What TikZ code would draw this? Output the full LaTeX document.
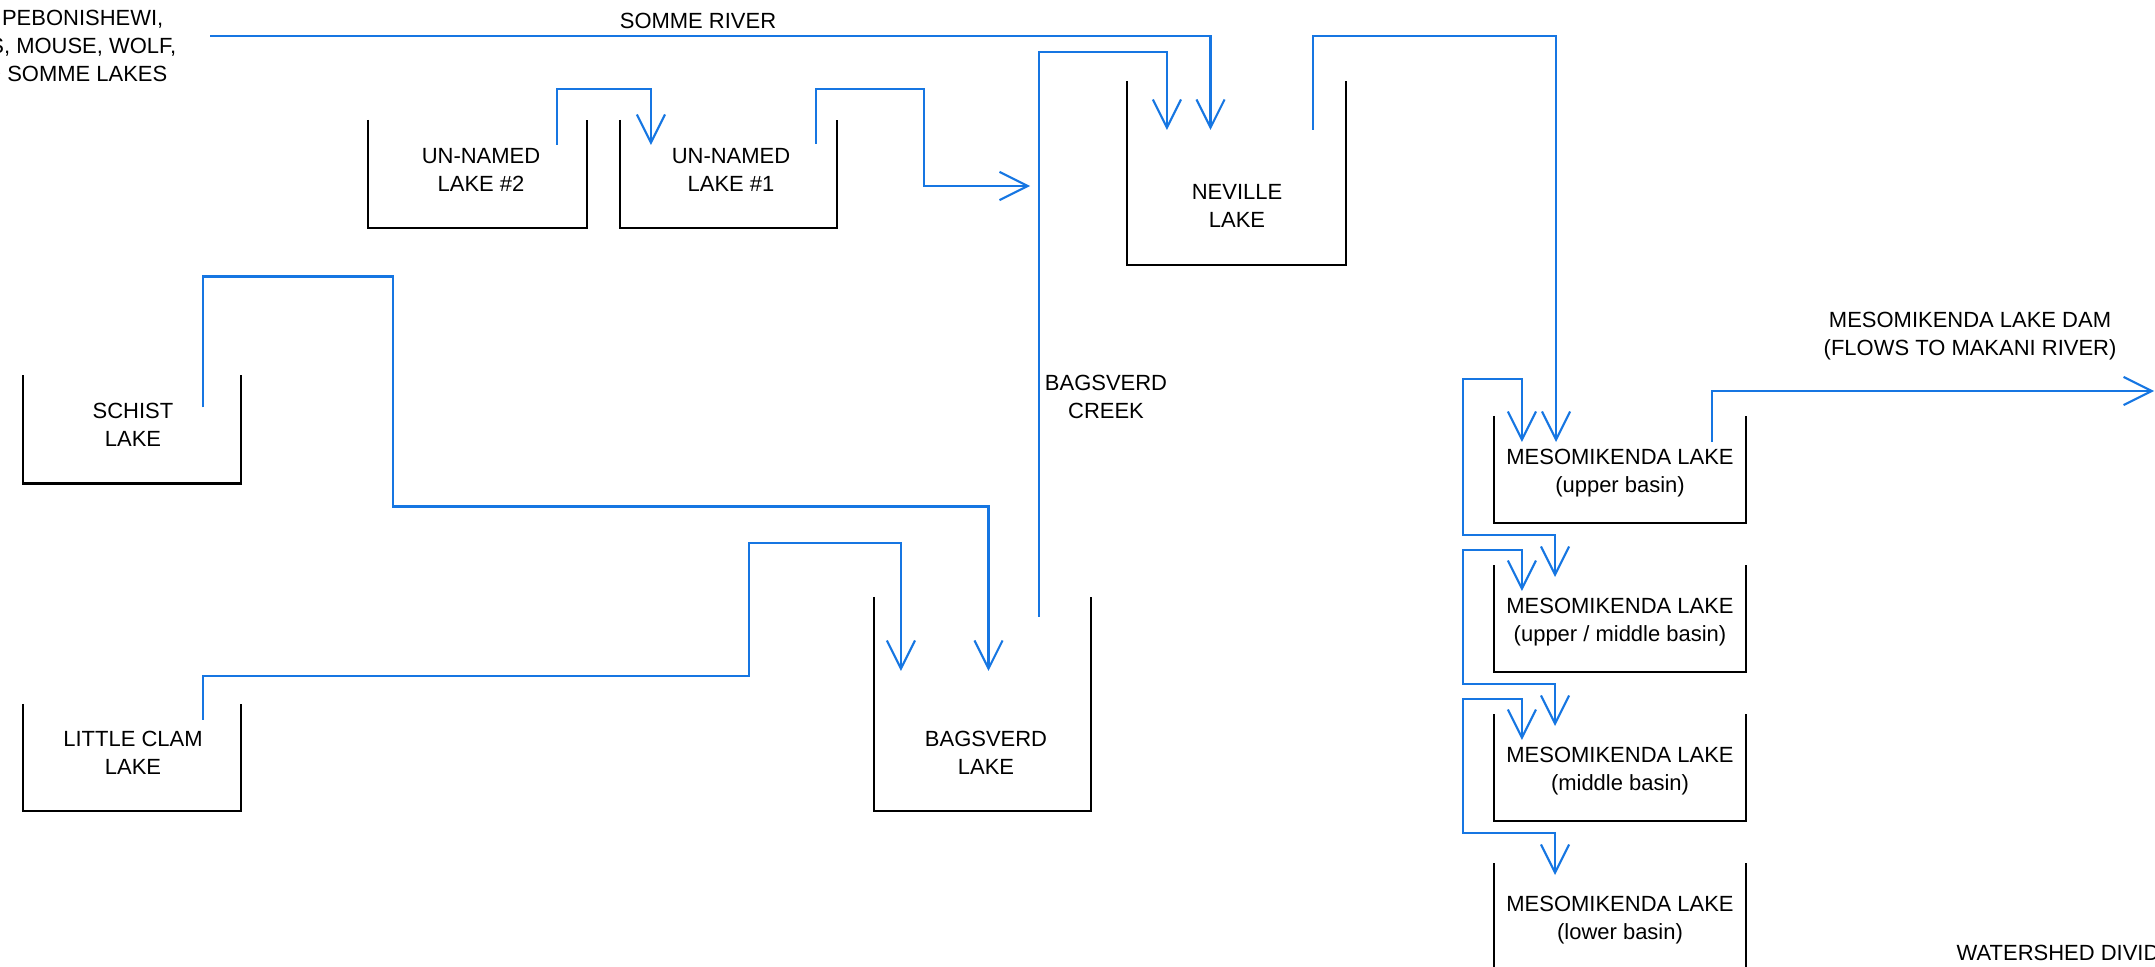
\documentclass[tikz,border=0pt]{standalone}
\usepackage{fontspec}
\setmainfont{Liberation Sans}
\usetikzlibrary{arrows.meta}
\definecolor{riverblue}{RGB}{22,118,226}

\begin{document}
\begin{tikzpicture}[x=0.01cm,y=-0.01cm,
  lake/.style={inner sep=0pt,outer sep=0pt,minimum width=2.18cm,minimum height=1.08cm},
  lbl/.style={align=center,inner sep=0pt,font=\fontsize{6.25}{7.9}\selectfont},
  wall/.style={line width=0.65pt,black},
  flow/.style={line width=0.6pt,riverblue,-{Straight Barb[length=8pt,width=8pt]}},
  flow2/.style={line width=0.6pt,riverblue,
    {Straight Barb[length=8pt,width=8pt]}-{Straight Barb[length=8pt,width=8pt]}}
]
\useasboundingbox (0,0) rectangle (2155,967);
\clip (0,0) rectangle (2155,967);

% lakes
\node[lake] (schist) at (132,429.5) {};
\node[lake,minimum height=1.07cm] (clam) at (132,757.5) {};
\node[lake,minimum width=2.19cm] (unnamed2) at (477.5,174) {};
\node[lake,minimum width=2.17cm] (unnamed1) at (728.5,174) {};
\node[lake,minimum width=2.19cm,minimum height=1.84cm] (neville) at (1236.5,173) {};
\node[lake,minimum width=2.17cm,minimum height=2.14cm] (bagsverd) at (982.5,704) {};
\foreach \n/\y in {1/416,2/565,3/714,4/863}
  \node[lake,minimum width=2.52cm,minimum height=1.07cm,anchor=north] (meso\n) at (1620,\y) {};

\foreach \n in {schist,clam,unnamed2,unnamed1,neville,bagsverd,meso1,meso2,meso3,meso4}
  \draw[wall] (\n.north west) |- (\n.south east) -- (\n.north east);

% names
\node[lbl] (schist-txt) at (133,425) {SCHIST\\LAKE};
\node[lbl] (clam-txt) at (133,753) {LITTLE CLAM\\LAKE};
\node[lbl] (unnamed2-txt) at (481,170) {UN-NAMED\\LAKE \#2};
\node[lbl] (unnamed1-txt) at (731,170) {UN-NAMED\\LAKE \#1};
\node[lbl] (neville-txt) at (1237,206) {NEVILLE\\LAKE};
\node[lbl] (bagsverd-txt) at (986,753) {BAGSVERD\\LAKE};
\node[lbl] (meso1-txt) at (1620,473) {MESOMIKENDA LAKE\\(upper basin)};
\node[lbl] (meso2-txt) at (1620,622) {MESOMIKENDA LAKE\\(upper / middle basin)};
\node[lbl] (meso3-txt) at (1620,771) {MESOMIKENDA LAKE\\(middle basin)};
\node[lbl] (meso4-txt) at (1620,920) {MESOMIKENDA LAKE\\(lower basin)};

\node[lbl,align=right,anchor=east] (upstream-txt) at (177,46)
  {PEBONISHEWI,\hspace*{0.13cm}\\S, MOUSE, WOLF,\\D SOMME LAKES\hspace*{0.09cm}};
\node[lbl] (somme-txt) at (698,21) {SOMME RIVER};
\node[lbl] (creek-txt) at (1106,397) {BAGSVERD\\CREEK};
\node[lbl] (dam-txt) at (1970,336) {MESOMIKENDA LAKE DAM\\(FLOWS TO MAKANI RIVER)};
\node[lbl,anchor=west] (divide-txt) at (1956,953) {WATERSHED DIVID};

% flows
\coordinate (somme) at (210,36);
\coordinate (creekin) at (1030,186);
\coordinate (makani) at (2154,391);

\draw[flow] (somme) -| ([shift={(-26,49)}]neville.north);
\draw[flow] ([shift={(-52,20)}]bagsverd.north east) -- ++(0,-565)
  -| ([shift={(40,49)}]neville.north west);
\draw[flow] ([shift={(-33,49)}]neville.north east) -- ++(0,-94)
  -| ([shift={(-64,26)}]meso1.north);
\draw[flow] ([shift={(-30,25)}]unnamed2.north east) -- ++(0,-56)
  -| ([shift={(31,25)}]unnamed1.north west);
\draw[flow] ([shift={(-21,24)}]unnamed1.north east) -- ++(0,-55) -- ++(108,0) |- (creekin);
\draw[flow] ([shift={(-38,32)}]schist.north east) -- ++(0,-131) -- ++(190,0) -- ++(0,230)
  -| ([shift={(6,74)}]bagsverd.north);
\draw[flow] ([shift={(-38,16)}]clam.north east) -- ++(0,-44) -- ++(546,0) -- ++(0,-133)
  -| ([shift={(27,74)}]bagsverd.north west);
\draw[flow] ([shift={(-34,26)}]meso1.north east) |- (makani);

\foreach \a/\b/\h in {1/2/63,2/3/41,3/4/41}
  \draw[flow2] ([shift={(28,26)}]meso\a.north west) -- ++(0,-\h) -- ++(-59,0)
    |- ([shift={(-65,12)}]meso\a.south) -- ([shift={(-65,12)}]meso\b.north);
\end{tikzpicture}
\end{document}
